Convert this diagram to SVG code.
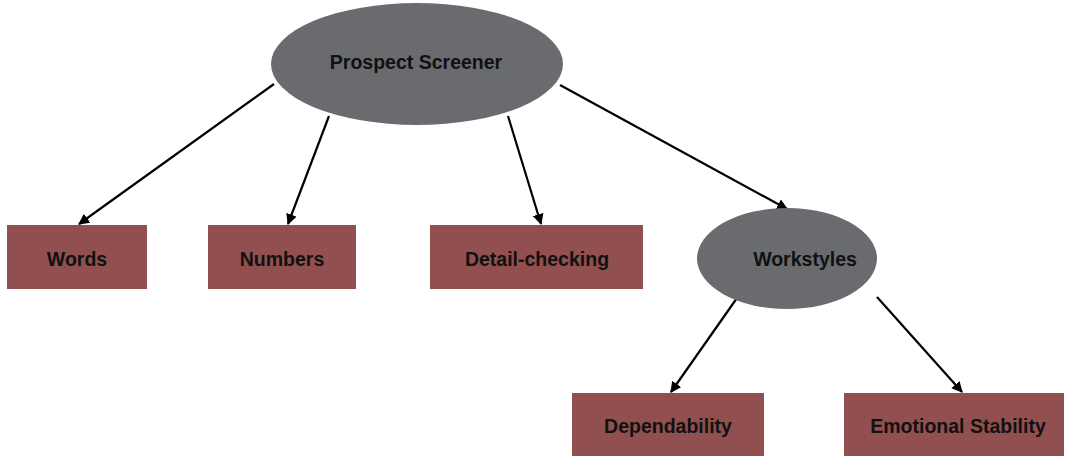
<svg xmlns="http://www.w3.org/2000/svg" width="1071" height="457" viewBox="0 0 1071 457">
  <style>
    .oval { fill: #6a6b6e; }
    .box { fill: #914f4f; }
    .label { font-family: "Liberation Sans", Arial, sans-serif; font-weight: bold; font-size: 19.5px; fill: #111; text-anchor: middle; dominant-baseline: central; }
    .edge { stroke: #000; stroke-width: 2.2; fill: none; marker-end: url(#arrow); }
  </style>
  <defs>
    <marker id="arrow" viewBox="0 0 10 10" refX="9" refY="5" markerWidth="5" markerHeight="5" orient="auto">
      <path d="M0,0 L10,5 L0,10 z" fill="#000"/>
    </marker>
  </defs>
  <rect width="1071" height="457" fill="#fff"/>

  <g id="connectors">
    <line class="edge" x1="274" y1="84" x2="79" y2="224"/>
    <line class="edge" x1="329" y1="116" x2="288" y2="224"/>
    <line class="edge" x1="508" y1="116" x2="541" y2="224"/>
    <line class="edge" x1="560" y1="85" x2="787" y2="209"/>
    <line class="edge" x1="737" y1="298" x2="671" y2="392"/>
    <line class="edge" x1="877" y1="297" x2="962" y2="392"/>
  </g>

  <g id="prospect-screener">
    <ellipse class="oval" cx="417" cy="64" rx="146" ry="61"/>
    <text class="label" x="416" y="62">Prospect Screener</text>
  </g>
  <g id="words">
    <rect class="box" x="7" y="225" width="140" height="64"/>
    <text class="label" x="77" y="259">Words</text>
  </g>
  <g id="numbers">
    <rect class="box" x="208" y="225" width="148" height="64"/>
    <text class="label" x="282" y="259">Numbers</text>
  </g>
  <g id="detail-checking">
    <rect class="box" x="430" y="225" width="213" height="64"/>
    <text class="label" x="537" y="259">Detail-checking</text>
  </g>
  <g id="workstyles">
    <ellipse class="oval" cx="787" cy="258.5" rx="90" ry="50.5"/>
    <text class="label" x="805" y="259">Workstyles</text>
  </g>
  <g id="dependability">
    <rect class="box" x="572" y="393" width="192" height="63"/>
    <text class="label" x="668" y="426">Dependability</text>
  </g>
  <g id="emotional-stability">
    <rect class="box" x="844" y="393" width="220" height="63"/>
    <text class="label" x="958" y="426">Emotional Stability</text>
  </g>
</svg>
